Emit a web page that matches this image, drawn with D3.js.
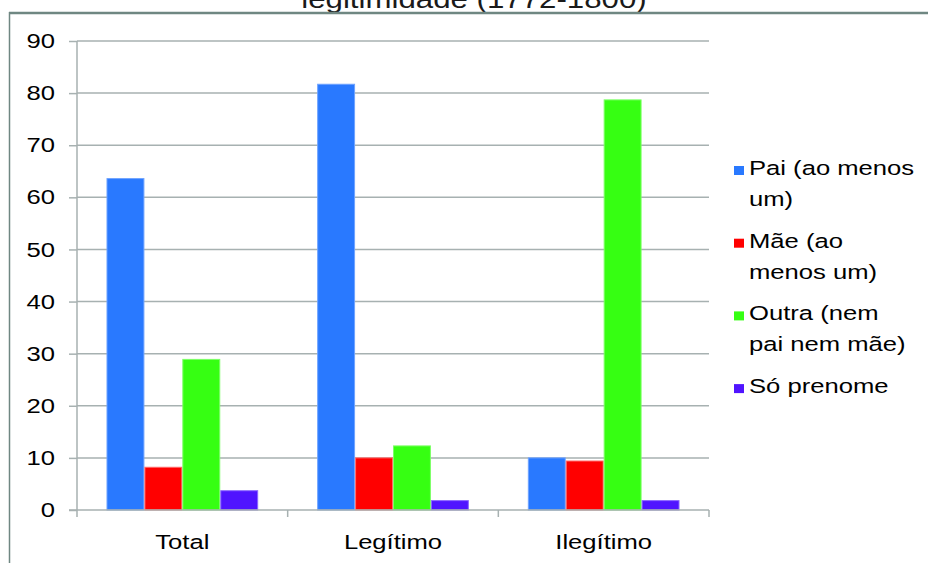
<!DOCTYPE html>
<html>
<head>
<meta charset="utf-8">
<script src="https://cdn.jsdelivr.net/npm/d3@7"></script>
<style>
  html, body { margin: 0; padding: 0; background: #fff; }
  svg { display: block; font-family: "Liberation Sans", Arial, sans-serif; }
</style>
</head>
<body>
<svg id="chart" width="928" height="563"></svg>
<script>
// Categories (legitimacy) and the share of each naming pattern, in percent
const categories = ["Total", "Legítimo", "Ilegítimo"];
const seriesKeys = ["pai", "mae", "outra", "so"];
const seriesLabels = [
  ["Pai (ao menos", "um)"],
  ["Mãe (ao", "menos um)"],
  ["Outra (nem", "pai nem mãe)"],
  ["Só prenome"]
];
const pai   = [63.6, 81.7, 10.0];
const mae   = [8.2, 10.0, 9.4];
const outra = [28.9, 12.3, 78.7];
const so    = [3.7, 1.8, 1.8];
const yTicks = [0, 10, 20, 30, 40, 50, 60, 70, 80, 90];
const titleText = "legitimidade (1772-1800)";

const colors = ["#2979FF", "#FF0000", "#36FF12", "#5014FF"];
const strokes = ["#6FA3FF", "#FF6A6A", "#7DFF66", "#8A66FF"];
const seriesValues = [pai, mae, outra, so];

const rows = categories.map((c, i) => ({
  cat: c,
  values: seriesKeys.map((k, j) => ({ key: k, idx: j, value: seriesValues[j][i] }))
}));

const svg = d3.select("#chart");
const SX = 1.25;           // horizontal stretch applied to all text
const plot = { left: 77, right: 709, top: 41, bottom: 510 };
const gridColor = "#A7B1B1";
const frameColor = "#6F8782";
const textColor = "#000";

// Title (mostly above the visible area)
svg.append("text")
  .attr("transform", `translate(474,8) scale(${SX},1)`)
  .attr("text-anchor", "middle")
  .attr("font-size", 25)
  .attr("fill", "#1a1a1a")
  .text(titleText);

// Outer frame of the chart area
svg.append("line").attr("x1", 9).attr("x2", 928).attr("y1", 13).attr("y2", 13)
  .attr("stroke", frameColor).attr("stroke-width", 2.5);
svg.append("line").attr("x1", 9.5).attr("x2", 9.5).attr("y1", 12).attr("y2", 563)
  .attr("stroke", frameColor).attr("stroke-width", 1.5);

// Scales
const x0 = d3.scaleBand().domain(categories)
  .range([plot.left, plot.right]).paddingInner(0.28).paddingOuter(0.14);
const x1 = d3.scaleBand().domain(seriesKeys).range([0, x0.bandwidth()]);
const y = d3.scaleLinear().domain([0, 90]).range([plot.bottom, plot.top]);

// Horizontal gridlines
svg.append("g").selectAll("line").data(yTicks.filter(t => t > 0)).join("line")
  .attr("x1", plot.left).attr("x2", plot.right)
  .attr("y1", d => y(d)).attr("y2", d => y(d))
  .attr("stroke", gridColor).attr("stroke-width", 1.5);

// Bars
const groups = svg.append("g").selectAll("g").data(rows).join("g")
  .attr("transform", d => `translate(${x0(d.cat)},0)`);
groups.selectAll("rect").data(d => d.values).join("rect")
  .attr("x", d => x1(d.key) + 0.5)
  .attr("width", x1.bandwidth() - 1)
  .attr("y", d => y(d.value))
  .attr("height", d => y(0) - y(d.value))
  .attr("fill", d => colors[d.idx])
  .attr("stroke", d => strokes[d.idx])
  .attr("stroke-width", 1);

// Y axis
const yAxis = svg.append("g")
  .attr("transform", `translate(${plot.left},0)`)
  .call(d3.axisLeft(y).tickValues(yTicks).tickSize(8).tickPadding(14));
yAxis.select(".domain").attr("stroke", gridColor).attr("stroke-width", 1.5)
  .attr("d", `M0,${plot.top}V${plot.bottom + 7}`);
yAxis.selectAll(".tick line").attr("stroke", gridColor).attr("stroke-width", 1.5);
yAxis.selectAll(".tick text")
  .attr("x", -22 / SX)
  .attr("transform", `scale(${SX},1)`)
  .attr("font-size", 20.5)
  .attr("fill", textColor)
  .attr("font-family", "Liberation Sans, Arial, sans-serif");

// X axis with ticks at band boundaries
const xAxis = svg.append("g").attr("transform", `translate(0,${plot.bottom})`);
xAxis.append("line").attr("x1", plot.left - 8).attr("x2", plot.right)
  .attr("stroke", gridColor).attr("stroke-width", 1.5);
const boundaries = categories.map(c => x0(c) - x0.step() * x0.paddingInner() / 2)
  .slice(1).concat([plot.right]);
xAxis.selectAll("line.tk").data(boundaries).join("line").attr("class", "tk")
  .attr("x1", d => d).attr("x2", d => d).attr("y1", 0).attr("y2", 7)
  .attr("stroke", gridColor).attr("stroke-width", 1.5);
xAxis.selectAll("text").data(categories).join("text")
  .attr("transform", d => `translate(${x0(d) + x0.bandwidth() / 2},39) scale(${SX},1)`)
  .attr("text-anchor", "middle")
  .attr("font-size", 20.5)
  .attr("fill", textColor)
  .text(d => d);

// Legend
const legend = svg.append("g").attr("transform", "translate(734,175)");
const items = legend.selectAll("g").data(seriesLabels).join("g")
  .attr("transform", (d, i) => `translate(0,${i * 72.7})`);
items.append("rect")
  .attr("x", 0).attr("y", -9).attr("width", 10).attr("height", 9)
  .attr("fill", (d, i) => colors[i]);
items.each(function (lines) {
  const t = d3.select(this).append("text")
    .attr("transform", `translate(15,0) scale(${SX},1)`)
    .attr("font-size", 20.5)
    .attr("fill", textColor);
  lines.forEach((ln, k) => {
    t.append("tspan").attr("x", 0).attr("y", k * 31).text(ln);
  });
});
</script>
</body>
</html>
